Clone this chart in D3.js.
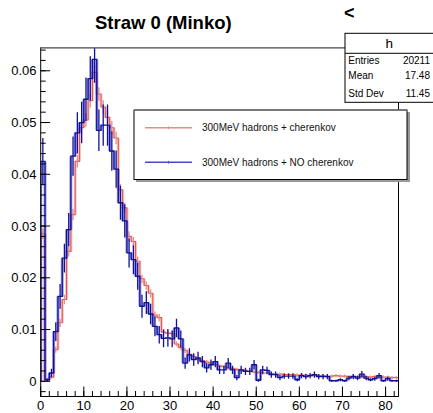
<!DOCTYPE html>
<html><head><meta charset="utf-8">
<script src="https://cdn.jsdelivr.net/npm/d3@7"></script>
<style>body{margin:0;background:#fff}svg{display:block;font-family:"Liberation Sans",Arial,Helvetica,sans-serif}</style>
</head><body><svg id="c" width="433" height="413"></svg>
<script>
// bins of width 1 from 0 to 83 (lower edges)
const binLow = d3.range(0, 83);
const redVals = [
0.0285,0.0002,0.0008,0.0061,0.0113,0.0158,0.0251,0.0322,0.0425,0.0490,
0.0505,0.0542,0.0597,0.0555,0.0530,0.0510,0.0490,0.0470,0.0370,0.0335,
0.0280,0.0270,0.0232,0.0198,0.0185,0.0170,0.0128,0.0123,0.0095,0.0093,
0.0092,0.0072,0.0065,0.0060,0.0052,0.0048,0.0042,0.0040,0.0037,0.0035,
0.0032,0.0030,0.0028,0.0026,0.0025,0.0023,0.0022,0.0021,0.0019,0.0018,
0.0017,0.0016,0.0016,0.0015,0.0014,0.0014,0.0013,0.0013,0.0013,0.0012,
0.0012,0.0012,0.0011,0.0012,0.0011,0.0011,0.0010,0.0010,0.0011,0.0010,
0.0010,0.0009,0.0010,0.0009,0.0009,0.0009,0.0008,0.0009,0.0008,0.0008,
0.0008,0.0007,0.0007];
const redErr = [
0.0010,0.0002,0.0003,0.0006,0.0008,0.0009,0.0010,0.0011,0.0012,0.0013,
0.0013,0.0013,0.0014,0.0013,0.0013,0.0013,0.0013,0.0012,0.0011,0.0010,
0.0010,0.0009,0.0009,0.0008,0.0008,0.0008,0.0007,0.0007,0.0006,0.0006,
0.0006,0.0005,0.0005,0.0005,0.0004,0.0004,0.0004,0.0004,0.0004,0.0004,
0.0003,0.0003,0.0003,0.0003,0.0003,0.0003,0.0003,0.0003,0.0003,0.0003,
0.0003,0.0003,0.0003,0.0003,0.0003,0.0003,0.0003,0.0003,0.0003,0.0003,
0.0003,0.0003,0.0003,0.0003,0.0003,0.0003,0.0003,0.0003,0.0003,0.0003,
0.0003,0.0003,0.0003,0.0003,0.0003,0.0003,0.0003,0.0003,0.0003,0.0003,
0.0003,0.0003,0.0003];
const blueVals = [
0.0425,0.0003,0.0016,0.0096,0.0164,0.0238,0.0293,0.0435,0.0480,0.0500,
0.0545,0.0585,0.0622,0.0485,0.0495,0.0495,0.0445,0.0410,0.0345,0.0310,
0.0248,0.0235,0.0203,0.0145,0.0152,0.0130,0.0106,0.0090,0.0083,0.0084,
0.0082,0.0103,0.0082,0.0035,0.0051,0.0042,0.0045,0.0038,0.0026,0.0032,
0.0038,0.0022,0.0022,0.0035,0.0022,0.0007,0.0022,0.0019,0.0019,0.0032,
0.0002,0.0022,0.0021,0.0013,0.0013,0.0007,0.0010,0.0010,0.0010,0.0003,
0.0011,0.0009,0.0011,0.0013,0.0009,0.0009,0.0009,0.0001,0.0001,0.0003,
0.0001,0.0006,0.0009,0.0006,0.0014,0.0006,0.0003,0.0005,0.0011,0.0001,
0.0005,0.0001,0.0001];
const blueErr = [
0.0045,0.0003,0.0008,0.0018,0.0024,0.0028,0.0032,0.0038,0.0040,0.0040,
0.0042,0.0043,0.0045,0.0040,0.0040,0.0040,0.0038,0.0036,0.0033,0.0032,
0.0028,0.0028,0.0026,0.0022,0.0022,0.0020,0.0019,0.0017,0.0017,0.0017,
0.0016,0.0018,0.0016,0.0011,0.0013,0.0012,0.0012,0.0011,0.0009,0.0010,
0.0011,0.0008,0.0008,0.0010,0.0008,0.0005,0.0008,0.0007,0.0007,0.0009,
0.0003,0.0008,0.0007,0.0006,0.0006,0.0005,0.0005,0.0005,0.0005,0.0003,
0.0005,0.0005,0.0005,0.0006,0.0005,0.0005,0.0005,0.0002,0.0002,0.0003,
0.0002,0.0004,0.0005,0.0004,0.0006,0.0004,0.0003,0.0004,0.0005,0.0002,
0.0004,0.0002,0.0002];
const xTicks = [0,10,20,30,40,50,60,70,80];
const yTicks = [0,0.01,0.02,0.03,0.04,0.05,0.06];
const yTickLabels = ["0","0.01","0.02","0.03","0.04","0.05","0.06"];
const titleText = "Straw 0 (Minko)";
const legendLabels = ["300MeV hadrons + cherenkov","300MeV hadrons + NO cherenkov"];
const statsName = "h";
const statsRows = [["Entries","20211"],["Mean","17.48"],["Std Dev","11.45"]];

const svg = d3.select("#c");
const L = 40.7, R = 398.5, T = 47.7, B = 396.5;
const x = d3.scaleLinear().domain([0, 83]).range([L, R]);
const y = d3.scaleLinear().domain([-0.00294, 0.06446]).range([B, T]);

svg.append("defs").append("clipPath").attr("id","fc")
  .append("rect").attr("x",L).attr("y",T).attr("width",R-L).attr("height",B-T);

// title
svg.append("text").attr("x",163.3).attr("y",28.5).attr("text-anchor","middle")
  .attr("font-size","18.5px").attr("font-weight","bold").text(titleText);
svg.append("text").attr("x",344).attr("y",18.5)
  .attr("font-size","18px").attr("font-weight","bold").text("<");

const g = svg.append("g").attr("clip-path","url(#fc)");

function drawHist(vals, errs, light, dark, thin, errColor) {
  const n = vals.length;
  const stepD = d3.path();
  stepD.moveTo(x(0), y(0));
  binLow.forEach((b,i) => { stepD.lineTo(x(b), y(vals[i])); stepD.lineTo(x(b+1), y(vals[i])); });
  // vertical translucent segments
  g.append("g").selectAll("line").data(binLow).join("line")
    .attr("x1", d => x(d)).attr("x2", d => x(d))
    .attr("y1", (d,i) => y(i === 0 ? 0 : vals[i-1]))
    .attr("y2", (d,i) => y(vals[i]))
    .attr("stroke", light).attr("stroke-width", 3).attr("opacity", 0.55);
  g.append("path").attr("d", stepD.toString()).attr("fill","none")
    .attr("stroke", dark).attr("stroke-width", thin);
  g.append("g").selectAll("line").data(binLow).join("line")
    .attr("x1", d => x(d+0.5)).attr("x2", d => x(d+0.5))
    .attr("y1", (d,i) => y(vals[i]-errs[i]))
    .attr("y2", (d,i) => y(vals[i]+errs[i]))
    .attr("stroke", errColor).attr("stroke-width", 1.3);
}
drawHist(redVals, redErr, "#f09a9a", "#e2574f", 1.1, "#eb8a86");
drawHist(blueVals, blueErr, "#5050c8", "#10109a", 1.3, "#10109a");

// frame
svg.append("rect").attr("x",L).attr("y",T).attr("width",R-L).attr("height",B-T)
  .attr("fill","none").attr("stroke","#000").attr("stroke-width",1);
svg.append("line").attr("x1",L).attr("x2",R).attr("y1",T).attr("y2",T)
  .attr("stroke","#777").attr("stroke-width",1.6);

// y axis ticks (inside)
const yMinor = d3.range(-0.002, 0.0645, 0.002);
svg.append("g").selectAll("line").data(yMinor).join("line")
  .attr("x1",L).attr("x2",L+5).attr("y1",d=>y(d)).attr("y2",d=>y(d))
  .attr("stroke","#000").attr("stroke-width",1);
svg.append("g").selectAll("line").data(yTicks).join("line")
  .attr("x1",L).attr("x2",L+9.5).attr("y1",d=>y(d)).attr("y2",d=>y(d))
  .attr("stroke","#000").attr("stroke-width",1);
svg.append("g").selectAll("text").data(yTicks).join("text")
  .attr("x",36.5).attr("y",d=>y(d)+4.6).attr("text-anchor","end")
  .attr("font-size","13px").text((d,i)=>yTickLabels[i]);

// x axis ticks (inside)
const xMinor = d3.range(0, 83, 2);
svg.append("g").selectAll("line").data(xMinor).join("line")
  .attr("x1",d=>x(d)).attr("x2",d=>x(d)).attr("y1",B).attr("y2",B-5.5)
  .attr("stroke","#000").attr("stroke-width",1);
svg.append("g").selectAll("line").data(xTicks).join("line")
  .attr("x1",d=>x(d)).attr("x2",d=>x(d)).attr("y1",B).attr("y2",B-10)
  .attr("stroke","#000").attr("stroke-width",1);
svg.append("g").selectAll("text").data(xTicks).join("text")
  .attr("x",d=>x(d)).attr("y",410).attr("text-anchor","middle")
  .attr("font-size","13px").text(d=>d);

// legend
const lg = svg.append("g");
lg.append("rect").attr("x",136).attr("y",112).attr("width",274).attr("height",70).attr("fill","#999");
lg.append("rect").attr("x",134).attr("y",110).attr("width",273).attr("height",69.5)
  .attr("fill","#fff").attr("stroke","#000").attr("stroke-width",1);
lg.append("line").attr("x1",134).attr("x2",407).attr("y1",110).attr("y2",110).attr("stroke","#777").attr("stroke-width",1.6);
const legColors = ["#ee8a86","#4848c0"];
const legY = [127.7, 162.3];
legendLabels.forEach((t,i)=>{
  lg.append("line").attr("x1",145).attr("x2",192).attr("y1",legY[i]).attr("y2",legY[i])
    .attr("stroke",legColors[i]).attr("stroke-width",1.4);
  lg.append("line").attr("x1",168.5).attr("x2",168.5).attr("y1",legY[i]-1.5).attr("y2",legY[i]+1.5)
    .attr("stroke",legColors[i]).attr("stroke-width",0.8);
  lg.append("text").attr("x",202).attr("y",legY[i]+3.7).attr("font-size","10px").attr("fill","#111").text(t);
});

// stats box
const sb = svg.append("g");
sb.append("rect").attr("x",345).attr("y",33.3).attr("width",100).attr("height",69)
  .attr("fill","#fff").attr("stroke","#000").attr("stroke-width",1);
sb.append("line").attr("x1",345).attr("x2",433).attr("y1",53.3).attr("y2",53.3).attr("stroke","#000");
sb.append("text").attr("x",389.3).attr("y",47.5).attr("text-anchor","middle").attr("font-size","13.5px").text(statsName);
const rowY = [63.5, 78.5, 96.5];
statsRows.forEach((r,i)=>{
  sb.append("text").attr("x",348.3).attr("y",rowY[i]).attr("font-size","10px").text(r[0]);
  sb.append("text").attr("x",430).attr("y",rowY[i]).attr("text-anchor","end").attr("font-size","10px").text(r[1]);
});
// frame right connecting segment visible between stats and legend is part of frame
</script></body></html>
